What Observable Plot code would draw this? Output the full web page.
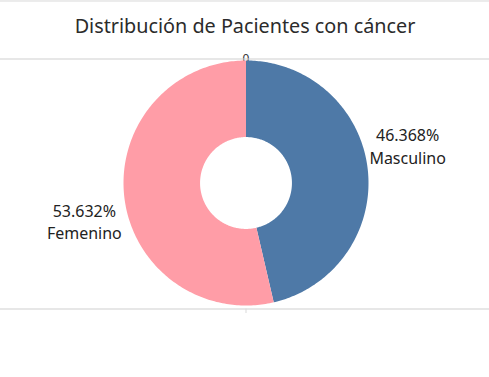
<!DOCTYPE html>
<html>
<head>
<meta charset="utf-8">
<script src="https://cdn.jsdelivr.net/npm/d3@7"></script>
<script src="https://cdn.jsdelivr.net/npm/@observablehq/plot@0.6"></script>
<style>
  html, body { margin: 0; padding: 0; background: #fff; }
  body { width: 489px; height: 377px; overflow: hidden; }
</style>
</head>
<body>
<div id="chart"></div>
<script>
const title = "Distribución de Pacientes con cáncer";
const categories = ["Masculino", "Femenino"];
const values = [46.368, 53.632];
const colors = ["#4e79a7", "#ff9da7"];
const axisTick = ["0"];

const innerR = 0.375;
const pie = d3.pie().sort(null)(values);

// polygon outlines of each donut slice, in data coordinates
const pts = [];
pie.forEach((p, i) => {
  const n = 200;
  for (let k = 0; k <= n; k++) {
    const a = p.startAngle + (p.endAngle - p.startAngle) * k / n;
    pts.push({cat: categories[i], x: Math.sin(a), y: Math.cos(a)});
  }
  for (let k = n; k >= 0; k--) {
    const a = p.startAngle + (p.endAngle - p.startAngle) * k / n;
    pts.push({cat: categories[i], x: innerR * Math.sin(a), y: innerR * Math.cos(a)});
  }
});

const labels = pie.map((p, i) => {
  const mid = (p.startAngle + p.endAngle) / 2 - 0.115;
  const r = 1.355;
  return {x: r * Math.sin(mid), y: r * Math.cos(mid),
          text: values[i].toFixed(3) + "%\n" + categories[i]};
});

const W = 489, H = 377;
const cx = 245.5, cy = 182.5, R = 122.5;

const chart = Plot.plot({
  width: W, height: H,
  margin: 0,
  style: {fontFamily: "'Noto Sans', sans-serif", background: "#fff", overflow: "visible"},
  x: {type: "linear", domain: [-cx / R, (W - cx) / R], range: [0, W], axis: null},
  y: {type: "linear", domain: [-(H - cy) / R, cy / R], range: [H, 0], axis: null},
  color: {domain: categories, range: colors},
  marks: [
    Plot.text([title], {frameAnchor: "top", dy: 18, text: d => d, fontSize: 19.8, fill: "#2b2b2b", lineAnchor: "top"}),
    Plot.text(axisTick, {x: 0, y: (cy - 62) / R, text: d => d, fontSize: 12, fill: "#333", lineAnchor: "bottom"}),
    Plot.ruleY([(cy - 58.5) / R, (cy - 308.5) / R], {stroke: "#cfcfcf", strokeWidth: 1}),
    Plot.ruleY([(cy - 0.5) / R], {stroke: "#d9d9d9", strokeWidth: 1}),
    Plot.ruleX([0], {y1: (cy - 308.5) / R, y2: (cy - 313) / R, stroke: "#d9d9d9"}),
    Plot.line(pts, {x: "x", y: "y", z: "cat", fill: "cat", stroke: "none", curve: "linear-closed"}),
    Plot.text(labels, {x: "x", y: "y", text: "text", fontSize: 16, fill: "#222", lineHeight: 1.4, textAnchor: "middle"})
  ]
});
document.getElementById("chart").appendChild(chart);
</script>
</body>
</html>
